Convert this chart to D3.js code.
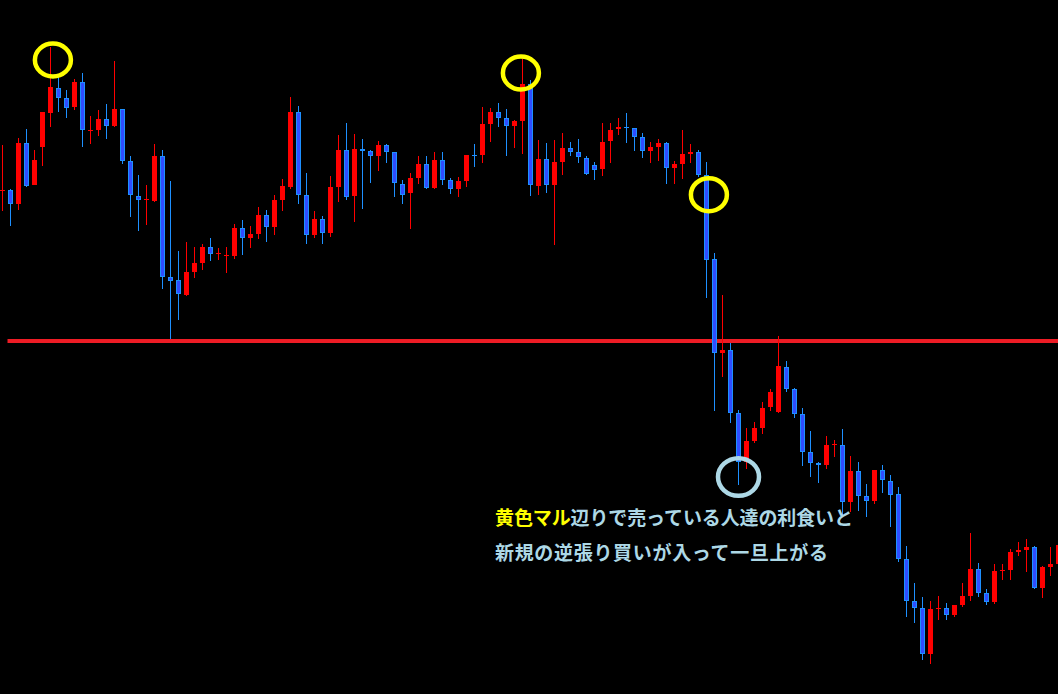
<!DOCTYPE html>
<html>
<head>
<meta charset="utf-8">
<script src="https://cdn.jsdelivr.net/npm/d3@7"></script>
<style>
html,body{margin:0;padding:0;background:#000;overflow:hidden;}
svg{display:block;}
</style>
</head>
<body>
<script>
// ---- data (price units) ----
const opens = [809,810,795.3,857,815,852.3,886.3,911.7,901.7,892.3,917.7,869.3,869.3,880.7,873.3,890.7,838.7,804,799.5,799,
843.7,722.7,720,705,727.3,736.3,753,746,743.7,743.3,772,761.3,765.3,785,772.3,799.3,813,888,805,764.3,
781,766.3,812.3,850,803.3,851,848.7,843.3,855,848,816,806.3,821.3,836,811.3,840,820,810.3,818.3,845,
844.3,875.3,888,882,873.3,878.3,916,813.3,841,814.3,837.3,852,848,842,835,830.3,858.3,870.3,873,872,
863,848.3,852.3,857,831.3,835.3,845.3,848,824.5,740.7,646.7,649.7,586.7,537.7,558.3,571.3,592.3,587.3,632.7,610.7,
585.7,547.7,537,534.3,554.7,555,497.7,529,503.7,498.3,530,519,506,440.7,398.7,391.7,345.3,391,391.7,384.3,
394.3,403.3,430.7,406.7,397.3,429,429.3,447.3,449.3,452.7,411.3,432.3,435.3];
const highs = [855,811,862,871,850,888,953.3,923.3,910,921,927,884,890,896,939,890.7,844,825,815,856,
850,819,749,758,753,756,762,752,753,776,780,774,793,790,805,821,903,894,827,789,
784,824,865,877,866,861,850,859,856.3,848,820,827,844,844,848,848,822.3,823,845,856,
893,892,897,891,880,941,920,860,857,860,867,858,861,844,838,877,877,882,887,872,
867,858,861,858,839,870,856,850,837.7,746.7,704.7,656.7,589.7,571.7,578,598,611,664,639,611.7,
592,569,538,564,560,570.7,544,538,516,530,535,525,513,454,417,403,399,404,397,394.7,
417,467,437,411,436.3,436,450.7,458,461,454,434.3,453,457];
const lows = [789.3,774.3,790.3,813.3,815,834,873,888.3,882.3,890.3,853.3,856.3,864.3,860.7,873.3,835.7,783.3,769.3,775,798.3,
711.3,660.7,680.5,704.3,722.3,730.3,739.3,740.3,727.3,741.3,745.3,752.3,761.3,758.3,765.3,789.3,811.3,796.3,756.3,762.3,
756.3,763.3,798.3,800.3,778.3,791.3,817.3,829.3,837.3,803.3,796.3,771.3,816.3,811.3,811.3,815.3,806.3,803.3,813.3,833.3,
837.3,858.3,873.3,844.3,852.3,846.3,804.3,805.3,807.3,755.3,825,844.3,837.3,825.3,820.3,824.3,837.3,865.3,857.3,849.3,
842.3,837.3,839.3,816.3,816.3,821.3,837.3,823.3,702.3,589.3,623.3,577.3,515.3,530.7,556.7,565.7,589.3,587.3,608.3,582.3,
534.3,523.3,517.3,530.7,542.7,483.3,488.3,489.3,483.3,496.3,507.3,473.3,438.3,383.3,377.3,340.3,336.3,380.3,380.3,383.3,
393.3,399.3,403.3,395.3,396.3,420.3,420.3,444.3,428.3,411.3,402.3,424.3,434];
const closes = [810,795.3,857,813.3,840,888,913,901.3,891.3,918,869.7,870,880.7,873.7,890.7,838.7,804.3,799.3,800.3,844,
722.3,718.7,705.3,728,737,753,745.3,746.7,744.3,772,761.3,766,785,772.3,800,814,888,804.3,764.3,781,
766.3,813,850,802.3,851,848.7,843.3,855,847.3,816.3,804.3,822,836,811.3,840,819.3,810.3,819,845,843.3,
876,888,881.3,873.7,879,916,814.3,841,814.3,838,852,847.3,842.3,825.3,829.3,858,870,873,871.3,862.3,
848.3,853,857,831.3,836,846,848,824.5,739.7,646.7,650,586.7,537.7,558.7,572,592,607.7,633.7,610.3,585.3,
547.3,536.3,534.7,555,555.3,497.7,529,503.3,498.7,530,519.3,504.3,440.3,398.3,391.3,345.3,390.7,391.6,384.7,394.7,
404,430.7,406.3,397.3,428.7,429.6,447.7,449.7,452.7,411.3,432.7,435.7,455];

const levelPrice = 659; // horizontal support line
const marks = [ // annotation circles (candle index, price, colour key)
  {i: 6.3, p: 940, kind: "sell"},
  {i: 64.8, p: 927, kind: "sell"},
  {i: 88.3, p: 805.3, kind: "sell"},
  {i: 92, p: 523, kind: "buy"}
];
const noteLine1 = [["黄色マル", "sell"], ["辺りで売っている人達の利食いと", "buy"]];
const noteLine2 = "新規の逆張り買いが入って一旦上がる";

// ---- drawing ----
const W = 1058, H = 694;
const svg = d3.select("body").append("svg").attr("width", W).attr("height", H)
  .style("background", "#000");

const x = d3.scaleLinear().domain([0, opens.length - 1]).range([2.5, 2.5 + 8 * (opens.length - 1)]);
const y = d3.scaleLinear().domain([306, 1000]).range([H, 0]);

const colors = {
  upFill: "#ff0000", upStroke: "#ff0000",
  downFill: "#2f4dff", downStroke: "#1e90ff",
  sell: "#ffff00", buy: "#add8e6", level: "#ee1c25"
};

const candles = opens.map((o, i) => ({i, o, h: highs[i], l: lows[i], c: closes[i], up: closes[i] >= o}));

// support line
svg.append("line")
  .attr("x1", x(0) + 5).attr("x2", W)
  .attr("y1", y(levelPrice)).attr("y2", y(levelPrice))
  .attr("stroke", colors.level).attr("stroke-width", 4);

const g = svg.append("g").attr("shape-rendering", "crispEdges");
g.selectAll("line.wick").data(candles).join("line")
  .attr("class", "wick")
  .attr("x1", d => x(d.i)).attr("x2", d => x(d.i))
  .attr("y1", d => y(d.h)).attr("y2", d => y(d.l))
  .attr("stroke", d => d.up ? colors.upStroke : colors.downStroke)
  .attr("stroke-width", 1);

g.selectAll("rect.body").data(candles).join("rect")
  .attr("class", "body")
  .attr("x", d => x(d.i) - 2)
  .attr("width", 4)
  .attr("y", d => y(Math.max(d.o, d.c)))
  .attr("height", d => Math.max(0.01, Math.abs(y(d.o) - y(d.c)) - 1))
  .attr("fill", d => d.up ? colors.upFill : colors.downFill)
  .attr("stroke", d => d.up ? colors.upStroke : colors.downStroke)
  .attr("stroke-width", 1);

// annotation circles
const radii = {sell: [18, 16.5], buy: [20.5, 18.8]};
svg.selectAll("ellipse.mark").data(marks).join("ellipse")
  .attr("class", "mark")
  .attr("cx", d => x(d.i)).attr("cy", d => y(d.p))
  .attr("rx", d => radii[d.kind][0]).attr("ry", d => radii[d.kind][1])
  .attr("fill", "none")
  .attr("stroke", d => colors[d.kind])
  .attr("stroke-width", 4.5);

// note text
const font = "'Noto Sans CJK JP', sans-serif";
const t1 = svg.append("text").attr("x", 495).attr("y", 525)
  .attr("font-family", font).attr("font-size", 19).attr("font-weight", "bold")
  .attr("textLength", 358).attr("lengthAdjust", "spacing");
t1.selectAll("tspan").data(noteLine1).join("tspan")
  .text(d => d[0]).attr("fill", d => colors[d[1]]);
svg.append("text").attr("x", 495).attr("y", 560)
  .attr("font-family", font).attr("font-size", 19).attr("font-weight", "bold")
  .attr("textLength", 333).attr("lengthAdjust", "spacing")
  .attr("fill", colors.buy).text(noteLine2);
</script>
</body>
</html>
